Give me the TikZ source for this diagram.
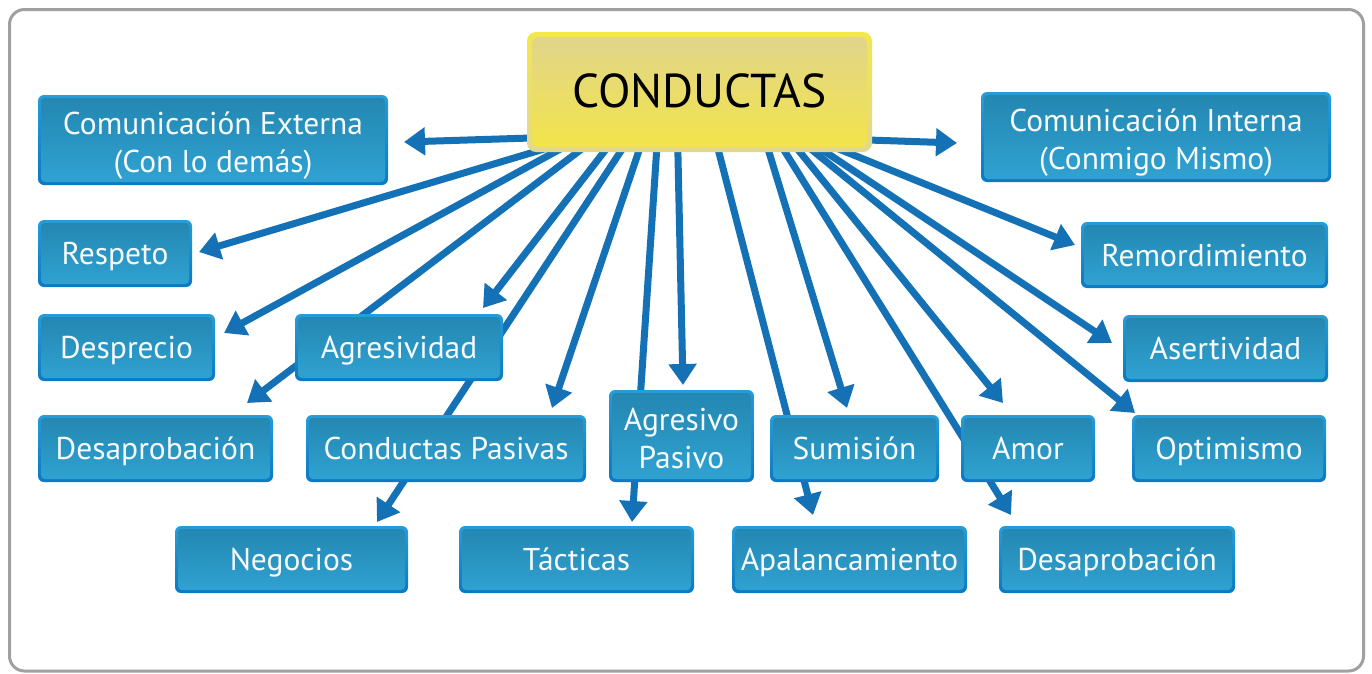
\documentclass[tikz,border=0pt]{standalone}
\usepackage{fontspec}
\setmainfont{PT Sans}
\usetikzlibrary{arrows.meta,calc}
\pgfdeclarelayer{canvas}
\pgfdeclarelayer{background}
\pgfsetlayers{canvas,background,main}
\definecolor{arrowblue}{RGB}{20,113,181}
\definecolor{rimtop}{RGB}{38,156,216}
\definecolor{rimbot}{RGB}{10,122,196}
\definecolor{filltop}{RGB}{35,134,176}
\definecolor{fillbot}{RGB}{48,163,211}
\definecolor{ytop}{RGB}{243,231,76}
\definecolor{ybot}{RGB}{226,216,142}
\definecolor{yftop}{RGB}{224,212,142}
\definecolor{yfbot}{RGB}{243,229,70}
\definecolor{framegray}{RGB}{160,160,160}
\definecolor{boxtext}{RGB}{246,250,252}
\tikzset{
  bluebox/.style={rectangle, rounded corners=6pt, top color=rimtop, bottom color=rimbot,
    draw=none, text=boxtext, font=\fontsize{31.5pt}{38pt}\selectfont, align=center, inner sep=0pt,
    text height=22pt, text depth=0pt,
    path picture={\shade[top color=filltop,bottom color=fillbot,rounded corners=4pt]
      ([shift={(3pt,-3pt)}]path picture bounding box.north west) rectangle
      ([shift={(-3pt,3pt)}]path picture bounding box.south east);}},
  twoline/.style={text height=64pt, text depth=0pt},
  titlebox/.style={rectangle, rounded corners=9pt, top color=ytop, bottom color=ybot,
    draw=none, text=black, font=\fontsize{47.5pt}{56pt}\selectfont, inner sep=0pt,
    text height=30pt, text depth=0pt,
    path picture={\shade[top color=yftop,bottom color=yfbot,rounded corners=7pt]
      ([shift={(5pt,-5pt)}]path picture bounding box.north west) rectangle
      ([shift={(-5pt,5pt)}]path picture bounding box.south east);}},
  arr/.style={draw=arrowblue, line width=7pt, line cap=butt, -{Triangle[length=21pt,width=27pt]}},
}
\begin{document}
\begin{tikzpicture}[x=1pt,y=-1pt]
\useasboundingbox (0,0) rectangle (1372,673);
\begin{pgfonlayer}{canvas}
\fill[white] (0,0) rectangle (1372,673);
\draw[framegray, line width=3pt, rounded corners=15pt] (9.5,9.5) rectangle (1363.5,671);
\end{pgfonlayer}

% title
\node[titlebox, minimum width=345pt, minimum height=120pt] (C) at (699.5,92) {CONDUCTAS};

% boxes
\node[bluebox, twoline, minimum width=350pt, minimum height=90pt] (ce) at (213,140) {Comunicación Externa\\(Con lo demás)};
\node[bluebox, twoline, minimum width=350pt, minimum height=90pt] (ci) at (1156,137) {Comunicación Interna\\(Conmigo Mismo)};
\node[bluebox, minimum width=154pt, minimum height=67pt] (resp) at (115,253.5) {Respeto};
\node[bluebox, minimum width=177pt, minimum height=67pt] (desp) at (126.5,347.5) {Desprecio};
\node[bluebox, minimum width=235pt, minimum height=67pt] (desaL) at (155.5,448.5) {Desaprobación};
\node[bluebox, minimum width=208pt, minimum height=67pt] (agres) at (399,347.5) {Agresividad};
\node[bluebox, minimum width=280pt, minimum height=67pt] (cpas) at (446,448.5) {Conductas Pasivas};
\node[bluebox, twoline, minimum width=145pt, minimum height=92pt] (ap) at (681.5,436) {Agresivo\\Pasivo};
\node[bluebox, minimum width=169pt, minimum height=67pt] (sum) at (854.5,448.5) {Sumisión};
\node[bluebox, minimum width=134pt, minimum height=67pt] (amor) at (1028,448.5) {Amor};
\node[bluebox, minimum width=194pt, minimum height=67pt] (opt) at (1229,448.5) {Optimismo};
\node[bluebox, minimum width=247pt, minimum height=66pt] (rem) at (1204.5,255) {Remordimiento};
\node[bluebox, minimum width=205pt, minimum height=67pt] (asert) at (1225.5,348.5) {Asertividad};
\node[bluebox, minimum width=233pt, minimum height=67pt] (neg) at (291.5,559.5) {Negocios};
\node[bluebox, minimum width=235pt, minimum height=67pt] (tac) at (576.5,559.5) {Tácticas};
\node[bluebox, minimum width=235pt, minimum height=67pt] (apal) at (849.5,559.5) {Apalancamiento};
\node[bluebox, minimum width=236pt, minimum height=67pt] (desaR) at (1117,559.5) {Desaprobación};

% arrow tips
\coordinate (t-ce) at (404,142);
\coordinate (t-ci) at (957,143);
\coordinate (t-resp) at (199,252);
\coordinate (t-desp) at (224,333);
\coordinate (t-desaL) at (247,403);
\coordinate (t-agres) at (483,308);
\coordinate (t-neg) at (377,522);
\coordinate (t-cpas) at (552,408);
\coordinate (t-tac) at (632,522);
\coordinate (t-ap) at (683,385);
\coordinate (t-apal) at (813,515);
\coordinate (t-sum) at (847,408);
\coordinate (t-desaR) at (1011,515);
\coordinate (t-amor) at (1003,403);
\coordinate (t-opt) at (1135,413);
\coordinate (t-asert) at (1112,343);
\coordinate (t-rem) at (1075,245);

\begin{pgfonlayer}{background}
\draw[arr] ([xshift=4pt,yshift=-46pt]C.west) -- (t-ce);
\draw[arr] ([xshift=-4pt,yshift=-48pt]C.east) -- (t-ci);
\draw[arr] ([xshift=20pt,yshift=4pt]C.south west) -- (t-resp);
\draw[arr] ([xshift=35pt,yshift=4pt]C.south west) -- (t-desp);
\draw[arr] ([xshift=56pt,yshift=4pt]C.south west) -- (t-desaL);
\draw[arr] ([xshift=80pt,yshift=4pt]C.south west) -- (t-agres);
\draw[arr] ([xshift=96pt,yshift=4pt]C.south west) -- (t-neg);
\draw[arr] ([xshift=113pt,yshift=4pt]C.south west) -- (t-cpas);
\draw[arr] ([xshift=130pt,yshift=4pt]C.south west) -- (t-tac);
\draw[arr] ([xshift=151pt,yshift=4pt]C.south west) -- (t-ap);
\draw[arr] ([xshift=191pt,yshift=4pt]C.south west) -- (t-apal);
\draw[arr] ([xshift=241pt,yshift=4pt]C.south west) -- (t-sum);
\draw[arr] ([xshift=256pt,yshift=4pt]C.south west) -- (t-desaR);
\draw[arr] ([xshift=270pt,yshift=4pt]C.south west) -- (t-amor);
\draw[arr] ([xshift=283pt,yshift=4pt]C.south west) -- (t-opt);
\draw[arr] ([xshift=293pt,yshift=4pt]C.south west) -- (t-asert);
\draw[arr] ([xshift=310pt,yshift=4pt]C.south west) -- (t-rem);
\end{pgfonlayer}
\end{tikzpicture}
\end{document}
